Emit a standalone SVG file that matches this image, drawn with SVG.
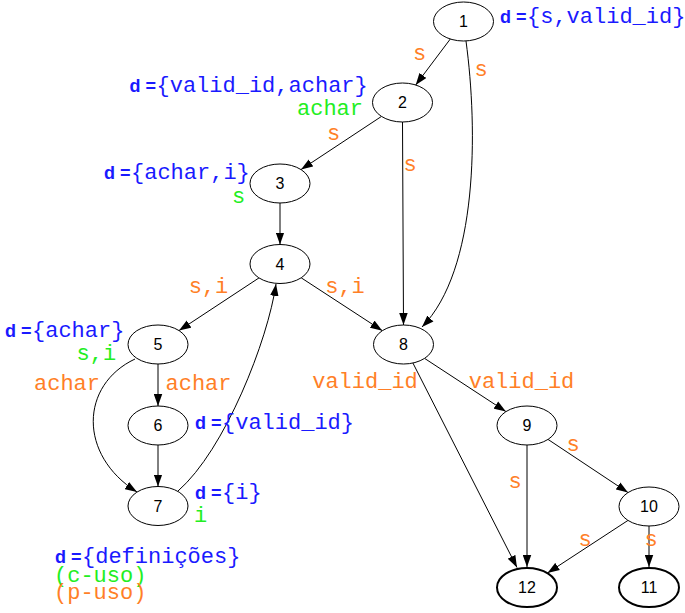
<svg xmlns="http://www.w3.org/2000/svg" width="685" height="613" viewBox="0 0 685 613">
<defs>
<marker id="arr" markerUnits="userSpaceOnUse" markerWidth="12" markerHeight="9" refX="12" refY="4.25" orient="auto" viewBox="0 0 12 8.5">
<path d="M0,0 L12,4.25 L0,8.5 z" fill="#000"/>
</marker>
<style>
.node ellipse{fill:#fff;stroke:#000;stroke-width:1}
.node.term ellipse{stroke-width:2}
.node text{font-family:"Liberation Sans",Arial,sans-serif;font-size:16px;text-anchor:middle;fill:#000}
.edges path{stroke:#000;stroke-width:1;fill:none;marker-end:url(#arr)}
.m{font-family:"Liberation Mono","Courier New",monospace;font-size:22px}
.c{text-anchor:middle}
.o{fill:#ff7f27}
.g{fill:#22ee22}
.b{fill:#1a1aff}
.dd{font-family:"Liberation Sans",Arial,sans-serif;font-weight:bold;font-size:18px}
</style>
</defs>
<rect width="685" height="613" fill="#fff"/>
<g class="edges" id="edges">
<path d="M450.3,39 L415.7,85"/>
<path d="M466,41 C478,130 478,270 422,327"/>
<path d="M381.5,116.4 L301,169.6"/>
<path d="M402.5,122 L403.5,325"/>
<path d="M280,203 L280,244.5"/>
<path d="M259,277.9 L179,330.6"/>
<path d="M301.2,277.8 L382.3,330.7"/>
<path d="M158,364 L158,406"/>
<path d="M158,445 L158,486.5"/>
<path d="M135,359 C80,385 78,455 137,492"/>
<path d="M178,491 C225,450 268,340 276,284"/>
<path d="M424.6,358.4 L505.9,411.6"/>
<path d="M412.9,363 L517,567.5"/>
<path d="M527,445 L527,567"/>
<path d="M548,439.4 L628,492.6"/>
<path d="M628,520.4 L547.5,573"/>
<path d="M649,526 L649,567"/>
</g>
<g id="edge-labels" class="m o">
<text class="c" x="419.5" y="60">s</text>
<text class="c" x="481" y="76">s</text>
<text class="c" x="333.5" y="140">s</text>
<text class="c" x="410" y="171">s</text>
<text class="c" x="208.5" y="293">s,i</text>
<text class="c" x="345" y="293">s,i</text>
<text class="c" x="67" y="390">achar</text>
<text class="c" x="198.5" y="390">achar</text>
<text class="c" x="365" y="387.5">valid_id</text>
<text class="c" x="521.5" y="387.5">valid_id</text>
<text class="c" x="515" y="488">s</text>
<text class="c" x="573" y="450.5">s</text>
<text class="c" x="585" y="545.5">s</text>
<text class="c" x="651" y="545.5">s</text>
</g>
<g id="n1" class="node"><ellipse cx="463.5" cy="21.5" rx="30" ry="19.5"/><text x="463.5" y="27.2">1</text></g>
<g id="n2" class="node"><ellipse cx="402.5" cy="102.5" rx="30" ry="19.5"/><text x="402.5" y="108.2">2</text></g>
<g id="n3" class="node"><ellipse cx="280" cy="183.5" rx="30" ry="19.5"/><text x="280" y="189.2">3</text></g>
<g id="n4" class="node"><ellipse cx="280" cy="264" rx="30" ry="19.5"/><text x="280" y="269.7">4</text></g>
<g id="n5" class="node"><ellipse cx="158" cy="344.5" rx="30" ry="19.5"/><text x="158" y="350.2">5</text></g>
<g id="n6" class="node"><ellipse cx="158" cy="425.5" rx="30" ry="19.5"/><text x="158" y="431.2">6</text></g>
<g id="n7" class="node"><ellipse cx="158" cy="506" rx="30" ry="19.5"/><text x="158" y="511.7">7</text></g>
<g id="n8" class="node"><ellipse cx="403.5" cy="344.5" rx="30" ry="19.5"/><text x="403.5" y="350.2">8</text></g>
<g id="n9" class="node"><ellipse cx="527" cy="425.5" rx="30" ry="19.5"/><text x="527" y="431.2">9</text></g>
<g id="n10" class="node"><ellipse cx="649" cy="506.5" rx="30" ry="19.5"/><text x="649" y="512.2">10</text></g>
<g id="n12" class="node term"><ellipse cx="527" cy="587.5" rx="30" ry="19.5"/><text x="527" y="593.2">12</text></g>
<g id="n11" class="node term"><ellipse cx="649" cy="587.5" rx="30" ry="19.5"/><text x="649" y="593.2">11</text></g>
<g id="annotations">
<text class="b" x="500" y="23"><tspan class="dd">d =</tspan><tspan class="m" x="527">{s,valid_id}</tspan></text>
<text class="b" x="129.5" y="92"><tspan class="dd">d =</tspan><tspan class="m" x="156.5">{valid_id,achar}</tspan></text>
<text class="m g" x="297" y="115">achar</text>
<text class="b" x="104" y="178.5"><tspan class="dd">d =</tspan><tspan class="m" x="131">{achar,i}</tspan></text>
<text class="m g" x="232" y="202.5">s</text>
<text class="b" x="5" y="337"><tspan class="dd">d =</tspan><tspan class="m" x="32">{achar}</tspan></text>
<text class="m g" x="76.5" y="360">s,i</text>
<text class="b" x="195" y="429"><tspan class="dd">d =</tspan><tspan class="m" x="222">{valid_id}</tspan></text>
<text class="b" x="195" y="499"><tspan class="dd">d =</tspan><tspan class="m" x="222">{i}</tspan></text>
<text class="m g" x="194" y="522">i</text>
</g>
<g id="legend">
<text class="b" x="55" y="562.5"><tspan class="dd">d =</tspan><tspan class="m" x="82">{definições}</tspan></text>
<text class="m g" x="54" y="582">(c-uso)</text>
<text class="m o" x="54" y="599">(p-uso)</text>
</g>
</svg>
